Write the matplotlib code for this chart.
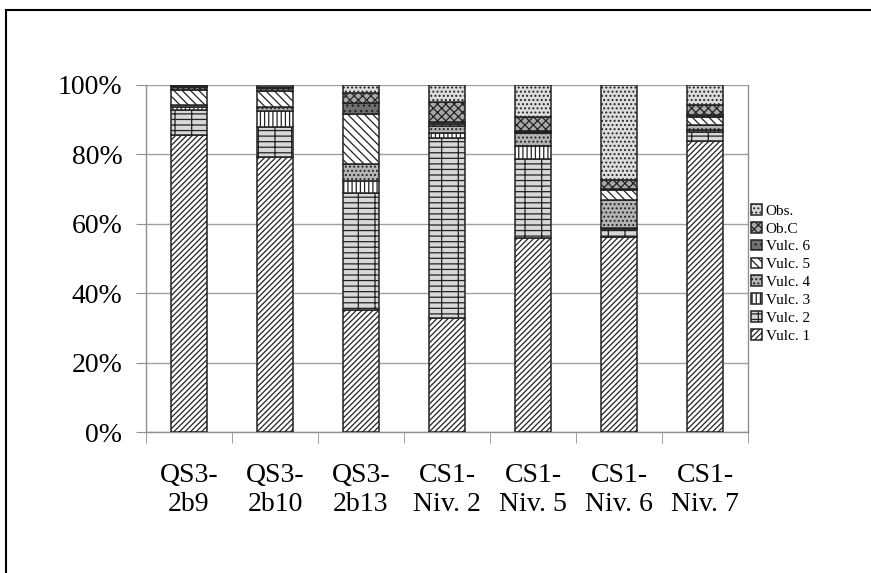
import matplotlib
matplotlib.use("Agg")
import matplotlib.pyplot as plt
import numpy as np
from matplotlib.lines import Line2D

categories = ["QS3-\n2b9", "QS3-\n2b10", "QS3-\n2b13", "CS1-\nNiv. 2", "CS1-\nNiv. 5", "CS1-\nNiv. 6", "CS1-\nNiv. 7"]
series_names = ["Vulc. 1", "Vulc. 2", "Vulc. 3", "Vulc. 4", "Vulc. 5", "Vulc. 6", "Ob.C", "Obs."]
vulc1 = [85.6, 79.3, 35.2, 32.8, 55.8, 56.3, 84.0]
vulc2 = [7.2, 8.7, 33.6, 51.8, 22.8, 2.2, 2.5]
vulc3 = [0.9, 4.6, 3.5, 1.5, 3.8, 0.3, 0.5]
vulc4 = [0.5, 1.1, 4.8, 2.2, 3.7, 8.1, 1.5]
vulc5 = [4.4, 4.7, 14.5, 0.5, 0.3, 2.8, 2.4]
vulc6 = [0.9, 0.6, 3.1, 0.4, 0.3, 0.4, 0.5]
obc = [0.3, 0.5, 2.9, 6.0, 4.0, 2.5, 2.8]
obs = [0.2, 0.5, 2.4, 4.8, 9.3, 27.4, 5.8]
series = [vulc1, vulc2, vulc3, vulc4, vulc5, vulc6, obc, obs]
yticks = [0, 20, 40, 60, 80, 100]

styles = [
    dict(facecolor="white", hatch="//////"),
    dict(facecolor="#d8d8d8", hatch="-+-"),
    dict(facecolor="white", hatch="||||"),
    dict(facecolor="#b4b4b4", hatch="...."),
    dict(facecolor="white", hatch="\\\\\\\\"),
    dict(facecolor="#707070", hatch="..."),
    dict(facecolor="#a8a8a8", hatch="xxxx"),
    dict(facecolor="#dcdcdc", hatch="...."),
]

plt.rcParams["font.family"] = ["Liberation Serif", "DejaVu Serif"]
plt.rcParams["hatch.linewidth"] = 0.9

fig = plt.figure(figsize=(8.71, 5.73), dpi=100)
ax = fig.add_axes([146/871, 1-432/573, 602/871, 347/573])

x = np.arange(len(categories))
bottom = np.zeros(len(categories))
handles = []
for name, vals, st in zip(series_names, series, styles):
    vals = np.array(vals, dtype=float)
    b = ax.bar(x, vals, width=0.41, bottom=bottom, edgecolor="#222222", linewidth=1.1,
               label=name, zorder=3, **st)
    handles.append(b)
    bottom += vals

ax.set_xlim(-0.5, len(categories) - 0.5)
ax.set_ylim(0, 100)
ax.set_yticks(yticks)
ax.set_yticklabels([f"{v}%" for v in yticks], fontsize=20)
ax.yaxis.grid(True, color="#a0a0a0", linewidth=1.0, zorder=0)
ax.tick_params(axis="y", direction="out", length=7, color="#909090", pad=10)

ax.set_xticks(x)
ax.set_xticklabels(categories, fontsize=20, linespacing=1.25)
ax.set_xticks(np.arange(len(categories) + 1) - 0.5, minor=True)
ax.tick_params(axis="x", which="major", length=0, pad=22)
ax.tick_params(axis="x", which="minor", direction="out", length=8, color="#909090")

for s in ["left", "bottom", "right"]:
    ax.spines[s].set_color("#909090")
    ax.spines[s].set_linewidth(1.0)
ax.spines["top"].set_visible(False)

leg = fig.legend(handles[::-1], series_names[::-1], loc="upper left",
                 bbox_to_anchor=(745/871, 1-198/573), frameon=False,
                 fontsize=11, handlelength=0.7, handleheight=0.7,
                 handletextpad=0.25, labelspacing=0.27, borderaxespad=0)

# outer frame
fig.add_artist(Line2D([6/871, 6/871], [0, 1-10/573], transform=fig.transFigure, color="black", linewidth=1.5))
fig.add_artist(Line2D([6/871, 1], [1-10/573, 1-10/573], transform=fig.transFigure, color="black", linewidth=1.5))

fig.savefig("out.png", dpi=100)
